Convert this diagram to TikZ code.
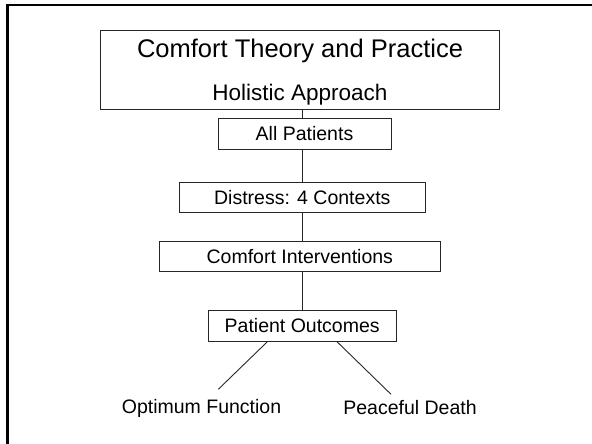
\documentclass[tikz,border=0pt]{standalone}
\usepackage{fontspec}
\setmainfont{Liberation Sans}
\begin{document}
\begin{tikzpicture}[x=1bp,y=-1bp,
  boxnode/.style={draw=black!85,line width=0.9bp,inner sep=0pt,
    font=\fontsize{19.5bp}{23bp}\selectfont},
  lbl/.style={inner sep=0pt,font=\fontsize{19.5bp}{23bp}\selectfont},
  link/.style={draw=black!85,line width=0.9bp}]
\useasboundingbox (0,0) rectangle (592,444);
% frame
\coordinate (fa) at (7.3,444);
\coordinate (fb) at (7.3,5);
\coordinate (fc) at (592,5);
\draw[line width=2.6bp,line cap=rect] (fa) -- (fb) -- (fc);
% nodes
\node[boxnode,minimum width=399bp,minimum height=79bp] (title) at (299.5,69.5) {};
\node[lbl,font=\fontsize{25.5bp}{30bp}\selectfont] (t1) at (300,50.5) {Comfort Theory and Practice};
\node[lbl,font=\fontsize{22.5bp}{27bp}\selectfont] (t2) at (300,95) {Holistic Approach};
\node[boxnode,minimum width=173bp,minimum height=31bp] (all) at (304.5,133.5) {All Patients};
\node[boxnode,minimum width=246.7bp,minimum height=30bp] (dist) at (302.3,197.7) {Distress: 4 Contexts};
\node[boxnode,minimum width=281bp,minimum height=30bp] (ci) at (299.8,256.3) {Comfort Interventions};
\node[boxnode,minimum width=187.7bp,minimum height=30.3bp] (po) at (302.2,325.8) {Patient Outcomes};
\node[lbl] (of) at (201.5,408) {Optimum Function};
\node[lbl] (pd) at (410,408) {Peaceful Death};
% connectors
\coordinate (spine) at (302.3,0);
\draw[link] (title.south -| spine) -- (all.north -| spine);
\draw[link] (all.south -| spine) -- (dist.north -| spine);
\draw[link] (dist.south -| spine) -- (ci.north -| spine);
\draw[link] (ci.south -| spine) -- (po.north -| spine);
\coordinate (ofend) at (218.3,389.3);
\coordinate (pdend) at (391,394.3);
\draw[link] ([xshift=-34.5bp]po.south) -- (ofend);
\draw[link] ([xshift=34.5bp]po.south) -- (pdend);
\end{tikzpicture}
\end{document}
